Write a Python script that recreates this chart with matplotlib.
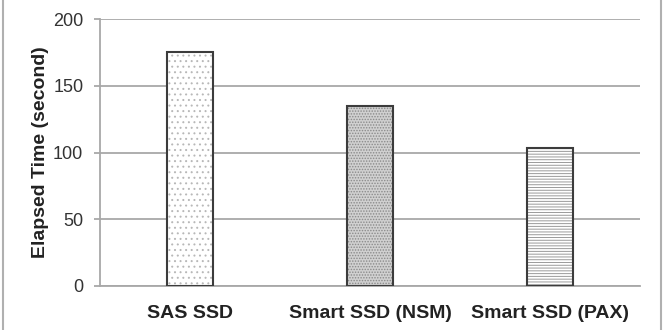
import matplotlib.pyplot as plt
from matplotlib.lines import Line2D
import numpy as np

plt.rcParams['font.family'] = ['Liberation Sans', 'DejaVu Sans']
plt.rcParams['hatch.linewidth'] = 0.7

categories = ['SAS SSD', 'Smart SSD (NSM)', 'Smart SSD (PAX)']
elapsed = [175, 135, 103]
hatches = ['...', '......', '------']
faces = ['white', '#d0d0d0', 'white']
hatch_colors = ['#b8b8b8', '#8a8a8a', '#9a9a9a']

fig = plt.figure(figsize=(6.7, 3.3), dpi=100)
ax = fig.add_axes([100/670, 44/330, 540/670, 267/330])

x = np.arange(len(categories))
for i in range(len(categories)):
    # hatch layer
    ax.bar(x[i], elapsed[i], width=0.255, color=faces[i], hatch=hatches[i],
           edgecolor=hatch_colors[i], linewidth=0, zorder=3)
    # outline
    ax.bar(x[i], elapsed[i], width=0.255, fill=False,
           edgecolor='#3c3c3c', linewidth=1.5, zorder=4)

ax.set_xlim(-0.5, 2.5)
ax.set_ylim(0, 200)
ax.set_yticks([0, 50, 100, 150, 200])
ax.yaxis.grid(True, color='#a8a8a8', linewidth=1.3, zorder=0)
ax.set_axisbelow(True)

for s in ['top', 'right']:
    ax.spines[s].set_visible(False)
ax.spines['left'].set_color('#a8a8a8')
ax.spines['left'].set_linewidth(1.3)
ax.spines['bottom'].set_color('#a8a8a8')
ax.spines['bottom'].set_linewidth(1.3)

ax.set_xticks(x)
ax.set_xticklabels(categories, fontsize=14, fontweight='bold', color='#222222')
ax.tick_params(axis='x', length=0, pad=14)
ax.tick_params(axis='y', length=4, width=1.3, color='#a8a8a8', labelsize=13,
               labelcolor='#333333', pad=8)
ax.set_ylabel('Elapsed Time (second)', fontsize=14, fontweight='bold',
              color='#222222', labelpad=3)

# thin gray frame lines at the picture edges
fig.add_artist(Line2D([3/670, 3/670], [0, 1], color='#b0b0b0', linewidth=1.5))
fig.add_artist(Line2D([661/670, 661/670], [0, 1], color='#b0b0b0', linewidth=1.5))

fig.savefig('out.png', dpi=100)
